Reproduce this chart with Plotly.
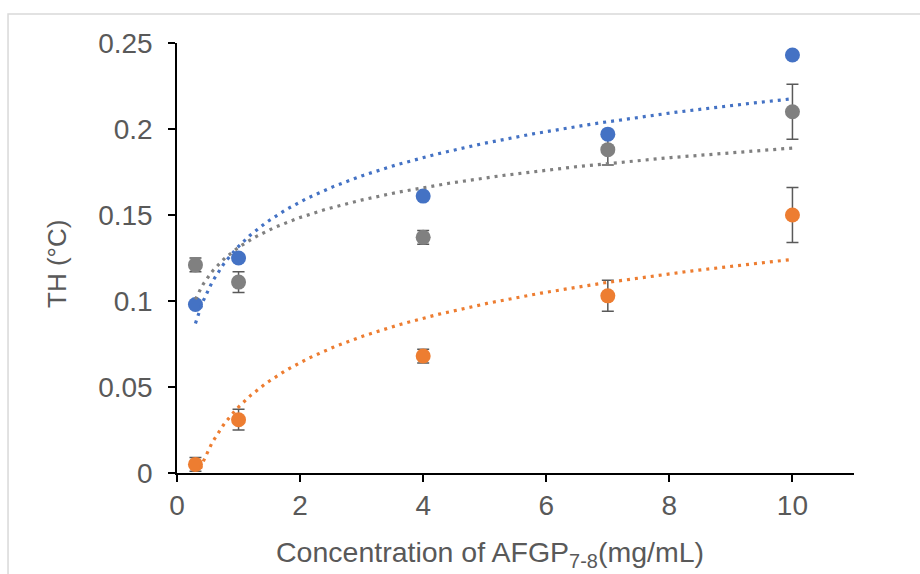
import numpy as np
import plotly.graph_objects as go

# ---- data ----
conc = [0.3, 1, 4, 7, 10]
th_blue = [0.098, 0.125, 0.161, 0.197, 0.243]
th_gray = [0.121, 0.111, 0.137, 0.188, 0.210]
err_gray = [0.004, 0.006, 0.004, 0.009, 0.016]
th_orange = [0.005, 0.031, 0.068, 0.103, 0.150]
err_orange = [0.004, 0.006, 0.004, 0.009, 0.016]
x_ticks = [0, 2, 4, 6, 8, 10]
y_ticks = [0, 0.05, 0.1, 0.15, 0.2, 0.25]
y_tick_text = ["0", "0.05", "0.1", "0.15", "0.2", "0.25"]

BLUE = "#4472C4"
GRAY = "#808080"
ORANGE = "#ED7D31"
TXT = "#595959"
FONT = "Liberation Sans, Arial, sans-serif"

fig = go.Figure()


def log_fit(x, y):
    a, b = np.polyfit(np.log(x), y, 1)
    xs = np.linspace(min(x), max(x), 300)
    return xs, a * np.log(xs) + b


# markers (with error bars)
for y, err, col in [(th_gray, err_gray, GRAY), (th_orange, err_orange, ORANGE), (th_blue, None, BLUE)]:
    kw = {}
    if err is not None:
        kw["error_y"] = dict(type="data", array=err, visible=True, color=TXT,
                             thickness=1.5, width=6)
    fig.add_trace(go.Scatter(x=conc, y=y, mode="markers",
                             marker=dict(color=col, size=15),
                             cliponaxis=False, showlegend=False, **kw))

# logarithmic trendlines computed from the data
for y, col in [(th_blue, BLUE), (th_orange, ORANGE), (th_gray, GRAY)]:
    xs, ys = log_fit(conc, y)
    fig.add_trace(go.Scatter(x=xs, y=ys, mode="lines",
                             line=dict(color=col, width=3.2, dash="3px,5px"),
                             showlegend=False, hoverinfo="skip"))

fig.update_layout(
    width=920, height=574,
    margin=dict(l=177, r=66, t=43, b=101),
    paper_bgcolor="white", plot_bgcolor="white",
    font=dict(family=FONT, color=TXT),
    xaxis=dict(range=[0, 11], tickvals=x_ticks, showgrid=False, zeroline=False,
               showline=True, linecolor="black", linewidth=1.5,
               ticks="outside", ticklen=7, tickwidth=1.5, tickcolor="black",
               tickfont=dict(size=28, color=TXT, family=FONT)),
    yaxis=dict(range=[0, 0.25], tickvals=y_ticks, ticktext=y_tick_text,
               showgrid=False, zeroline=False,
               showline=True, linecolor="black", linewidth=1.5,
               ticks="outside", ticklen=7, tickwidth=1.5, tickcolor="black",
               ticklabelstandoff=10,
               tickfont=dict(size=28, color=TXT, family=FONT)),
    shapes=[dict(type="rect", xref="paper", yref="paper",
                 x0=-0.2496, x1=1.3, y0=-0.4, y1=1.0674,
                 line=dict(color="#D9D9D9", width=1.5), layer="below")],
    annotations=[
        dict(text="Concentration of AFGP<sub>7-8</sub>(mg/mL)", xref="paper", yref="paper",
             x=(490 - 177) / 677, y=(473 - 554) / 430, xanchor="center", yanchor="middle",
             showarrow=False, font=dict(size=28.5, color=TXT, family=FONT)),
        dict(text="TH (°C)", xref="paper", yref="paper",
             x=(57 - 177) / 677, y=(473 - 264) / 430, xanchor="center", yanchor="middle",
             textangle=-90, showarrow=False, font=dict(size=26, color=TXT, family=FONT)),
    ],
)

fig.write_html("out.html", config={"displayModeBar": False})

# remove the browser's default 8px body margin so the figure sits at the page origin
with open("out.html", "r", encoding="utf-8") as f:
    html = f.read()
html = html.replace("<body>", '<body style="margin:0;overflow:hidden">', 1)
with open("out.html", "w", encoding="utf-8") as f:
    f.write(html)
